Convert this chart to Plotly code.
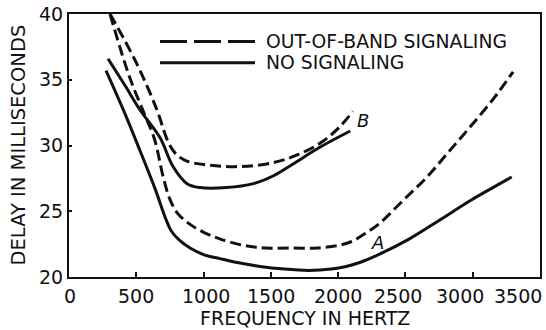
import plotly.graph_objects as go

# Frequency (Hz) / delay (ms) readings for each curve
freq_a_oob = [305, 450, 560, 635, 700, 750, 810, 900, 1000, 1120, 1300, 1470, 1650, 1840, 2000, 2100, 2200, 2310, 2480, 2660, 2820, 2980, 3150, 3300]
delay_a_oob = [40.0, 35.2, 32.4, 30.5, 27.6, 25.9, 24.8, 24.0, 23.4, 22.9, 22.4, 22.2, 22.2, 22.2, 22.4, 22.7, 23.3, 24.1, 25.8, 27.6, 29.5, 31.4, 33.5, 35.6]

freq_a_none = [275, 400, 528, 640, 720, 760, 820, 900, 1000, 1120, 1250, 1420, 1600, 1780, 1950, 2060, 2160, 2300, 2530, 2750, 2980, 3150, 3290]
delay_a_none = [35.7, 32.8, 29.6, 26.7, 24.4, 23.5, 22.8, 22.2, 21.7, 21.4, 21.1, 20.8, 20.6, 20.5, 20.6, 20.8, 21.1, 21.7, 22.9, 24.3, 25.8, 26.8, 27.6]

freq_b_oob = [305, 500, 650, 740, 800, 880, 1050, 1270, 1520, 1700, 1870, 2000, 2110]
delay_b_oob = [40.0, 36.3, 32.8, 30.2, 29.3, 28.8, 28.5, 28.4, 28.7, 29.3, 30.2, 31.3, 32.6]

freq_b_none = [290, 420, 528, 676, 773, 877, 973, 1170, 1370, 1520, 1665, 1870, 2090]
delay_b_none = [36.6, 34.5, 32.7, 30.6, 28.4, 27.1, 26.8, 26.8, 27.1, 27.7, 28.6, 29.9, 31.1]

x_ticks = [0, 500, 1000, 1500, 2000, 2500, 3000, 3500]
x_tick_text = ["0", "500", "1000", "1500", "2000", "2500", "3000", "3500"]
y_ticks = [20, 25, 30, 35, 40]

FONT = "DejaVu Sans"
INK = "#111111"
DASH = "11px,5px"

# Horizontal nudges (px) for the crowded frequency labels near the right edge
x_label_nudge = [1, 0, 2, 0, 0, -7, -13, -22]

fig = go.Figure()

curves = [
    (freq_a_oob, delay_a_oob, DASH),
    (freq_a_none, delay_a_none, "solid"),
    (freq_b_oob, delay_b_oob, DASH),
    (freq_b_none, delay_b_none, "solid"),
]
for fx, dy, dash in curves:
    fig.add_trace(go.Scatter(
        x=fx, y=dy, mode="lines",
        line=dict(color=INK, width=3, dash=dash, shape="spline", smoothing=1.0),
        showlegend=False, hoverinfo="skip",
    ))

# Key drawn inside the plot area
key_x0, key_x1 = 676, 1382
fig.add_shape(type="line", x0=key_x0, x1=key_x1, y0=37.9, y1=37.9,
              line=dict(color=INK, width=3, dash="27px,7px"))
fig.add_shape(type="line", x0=key_x0, x1=key_x1, y0=36.3, y1=36.3,
              line=dict(color=INK, width=3))
fig.add_annotation(x=1450, y=37.9, text="OUT-OF-BAND SIGNALING", showarrow=False,
                   xanchor="left", yanchor="middle", font=dict(family=FONT, size=18.8, color=INK))
fig.add_annotation(x=1450, y=36.3, text="NO SIGNALING", showarrow=False,
                   xanchor="left", yanchor="middle", font=dict(family=FONT, size=18.8, color=INK))

# Curve family labels
fig.add_annotation(x=2185, y=31.9, text="<i>B</i>", showarrow=False,
                   font=dict(family=FONT, size=18, color=INK))
fig.add_annotation(x=2296, y=22.6, text="<i>A</i>", showarrow=False,
                   font=dict(family=FONT, size=18, color=INK))

# Frequency tick labels
for xv, txt, dx in zip(x_ticks, x_tick_text, x_label_nudge):
    fig.add_annotation(x=xv, y=0, xref="x", yref="paper", text=txt, showarrow=False,
                       xanchor="center", yanchor="top", yshift=-6, xshift=dx,
                       font=dict(family=FONT, size=19, color=INK))

# Axis titles
fig.add_annotation(x=0.5, y=0, xref="paper", yref="paper", text="FREQUENCY IN HERTZ",
                   showarrow=False, xanchor="center", yanchor="middle", yshift=-41, borderpad=0,
                   font=dict(family=FONT, size=19, color=INK))
fig.add_annotation(x=0, y=0.5, xref="paper", yref="paper", text="DELAY IN MILLISECONDS",
                   showarrow=False, xanchor="center", yanchor="middle", xshift=-51, textangle=-90,
                   font=dict(family=FONT, size=19.5, color=INK))

axis_common = dict(
    showline=True, linecolor=INK, linewidth=2, mirror=True,
    ticks="inside", tickcolor=INK, tickwidth=1.5,
    showgrid=False, zeroline=False, automargin=False,
    tickfont=dict(family=FONT, size=19, color=INK),
)

fig.update_xaxes(range=[0, 3500], tickvals=x_ticks, ticklen=5, showticklabels=False, **axis_common)
fig.update_yaxes(range=[20, 40], tickvals=y_ticks, ticklen=3, **axis_common)

fig.update_layout(
    width=546, height=330,
    margin=dict(l=69, r=6, t=14, b=53),
    paper_bgcolor="white", plot_bgcolor="white",
)

fig.write_html("out.html")
